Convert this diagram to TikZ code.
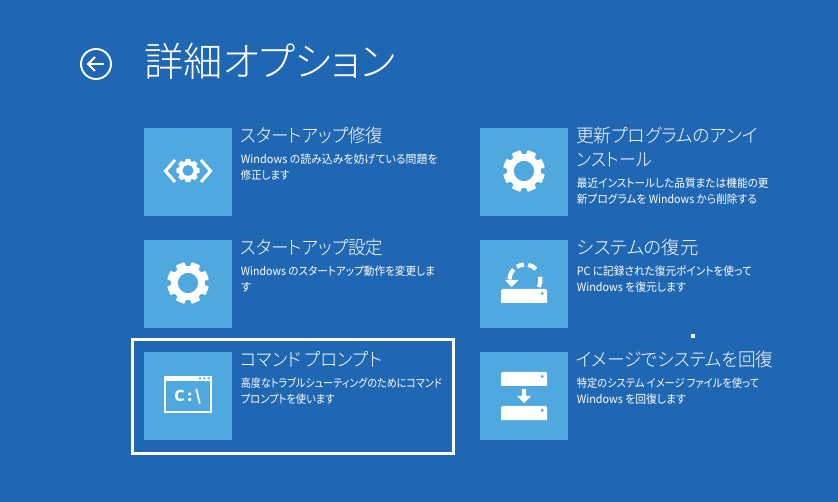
\documentclass[tikz,border=0pt]{standalone}
\usepackage{fontspec}
\usetikzlibrary{calc}
\setmainfont{Noto Sans CJK JP}[RawFeature=+palt]
\newfontfamily\jplight{Noto Sans CJK JP Light}[RawFeature=+palt]
\definecolor{bgblue}{RGB}{32,103,179}
\definecolor{tileblue}{RGB}{79,168,222}
\newcommand{\fitw}[2]{\resizebox{#1pt}{\height}{#2}}
\newcommand{\gearicon}[4]{% cx cy r rotation
  \fill[white,even odd rule,rounded corners=0.8pt]
    ($(#1,#2)+(#4-9.5:#3*0.8)$)
    \foreach \a in {0,45,...,315} {
      -- ($(#1,#2)+(#4+\a+7:#3*0.8)$) -- ($(#1,#2)+(#4+\a+10:#3)$)
      -- ($(#1,#2)+(#4+\a+35:#3)$) -- ($(#1,#2)+(#4+\a+38:#3*0.8)$)
    } -- cycle
    (#1,#2) circle[radius=#3*0.48];
}
\newcommand{\hddbox}[1]{% top y of box
  \fill[white] (501,#1+14) -- (501,#1+1.5) -- (502.5,#1) -- (545.5,#1) -- (547,#1+1.5) -- (547,#1+14) -- cycle;
  \fill[tileblue] (540.9,#1+3.8) rectangle (543.7,#1+5) (541.7,#1+3) rectangle (542.9,#1+5.8);
}
\tikzset{
  tile/.style={fill=tileblue,draw=none,minimum width=88pt,minimum height=88pt,inner sep=0pt,anchor=north west},
  headtxt/.style={text=white,anchor=base west,inner sep=0pt,font=\jplight\fontsize{18.5}{18.5}\selectfont},
  bodytxt/.style={text=white,anchor=base west,inner sep=0pt,font=\fontsize{11.4}{12}\selectfont},
}
\begin{document}
\begin{tikzpicture}[x=1pt,y=-1pt]
\useasboundingbox (0,0) rectangle (838,502);
\fill[bgblue] (0,0) rectangle (838,502);
% back
\draw[white,line width=1.9pt] (96,64) circle[radius=15];
\draw[white,line width=2pt] (88,64) -- (104,64);
\draw[white,line width=2pt] (95,57) -- (88,64) -- (95,71);
\node[text=white,anchor=base west,inner sep=0pt,font=\jplight\fontsize{40}{40}\selectfont] (title) at (144,77) {\fitw{251}{詳細オプション}};
% tiles
\node[tile] (t1) at (144,128) {};
\node[tile] (t2) at (144,240) {};
\node[tile] (t3) at (144,352) {};
\node[tile] (t4) at (480,128) {};
\node[tile] (t5) at (480,240) {};
\node[tile] (t6) at (480,352) {};
% selection
\draw[white,line width=3pt] (132.5,339.5) rectangle (453.5,453.5);
% texts
\node[headtxt] (h1) at (240,142.5) {\fitw{143}{スタートアップ修復}};
\node[bodytxt] (b1a) at (240.7,164) {\fitw{196.6}{Windows の読み込みを妨げている問題を}};
\node[bodytxt] (b1b) at (240.7,180) {\fitw{48.7}{修正します}};
\node[headtxt] (h2) at (240,254.5) {\fitw{143}{スタートアップ設定}};
\node[bodytxt] (b2a) at (240.7,276) {\fitw{194}{Windows のスタートアップ動作を変更しま}};
\node[bodytxt] (b2b) at (240.7,292) {す};
\node[headtxt] (h3) at (240,366.5) {\fitw{141.7}{コマンド プロンプト}};
\node[bodytxt] (b3a) at (240.7,388) {\fitw{201}{高度なトラブルシューティングのためにコマンド}};
\node[bodytxt] (b3b) at (240.7,404) {\fitw{93.7}{プロンプトを使います}};
\node[headtxt] (h4a) at (576,142.5) {\fitw{181.3}{更新プログラムのアンイ}};
\node[headtxt] (h4b) at (576,167) {\fitw{75.7}{ンストール}};
\node[bodytxt] (b4a) at (576.7,188) {\fitw{191.7}{最近インストールした品質または機能の更}};
\node[bodytxt] (b4b) at (576.7,204) {\fitw{180}{新プログラムを Windows から削除する}};
\node[headtxt] (h5) at (576.7,254.5) {\fitw{121.7}{システムの復元}};
\node[bodytxt] (b5a) at (576.7,276) {\fitw{175}{PC に記録された復元ポイントを使って}};
\node[bodytxt] (b5b) at (576.7,292) {\fitw{109}{Windows を復元します}};
\node[headtxt] (h6) at (576,366.5) {\fitw{197.3}{イメージでシステムを回復}};
\node[bodytxt] (b6a) at (576.7,388) {\fitw{182.3}{特定のシステム イメージ ファイルを使って}};
\node[bodytxt] (b6b) at (576.7,404) {\fitw{109}{Windows を回復します}};
% icon 1
\gearicon{188}{170.5}{11.8}{-22.5}
\draw[white,line width=3pt,miter limit=3] (175,160) -- (165.5,171) -- (175,182);
\draw[white,line width=3pt,miter limit=3] (201,160) -- (210.5,171) -- (201,182);
% gears
\gearicon{188}{283}{21.3}{0}
\gearicon{524}{171}{21.3}{0}
% cmd
\draw[white,line width=1.6pt] (164.8,376.8) rectangle (211.2,412.2);
\fill[white] (164,376) rectangle (212,381.5);
\fill[tileblue] (199,377.3) rectangle (201,379.3) (203.3,377.3) rectangle (205.3,379.3) (207.6,377.3) rectangle (209.6,379.3);
\node[text=white,inner sep=0pt,font=\bfseries\fontsize{15}{15}\selectfont] (cmd) at (187.5,397) {\fitw{27}{C\kern2pt:\kern2pt\textbackslash}};
% restore
\hddbox{289}
\foreach \s/\e in {27/-12,-45/-78,-94/-122,-137/-178}{
  \draw[white,line width=4.2pt] ($(525,280)+(\s:15.5)$) arc[start angle=\s,end angle=\e,radius=15.5];
}
\fill[white] (505,280) -- (518.5,280) -- (511.5,287) -- cycle;
% backup
\hddbox{372}
\fill[white] (522,389) rectangle (526,396) (517,396) -- (531,396) -- (524,403) -- cycle;
\hddbox{406}
% dot
\fill[white] (691,334) rectangle (695,338);
\end{tikzpicture}
\end{document}
